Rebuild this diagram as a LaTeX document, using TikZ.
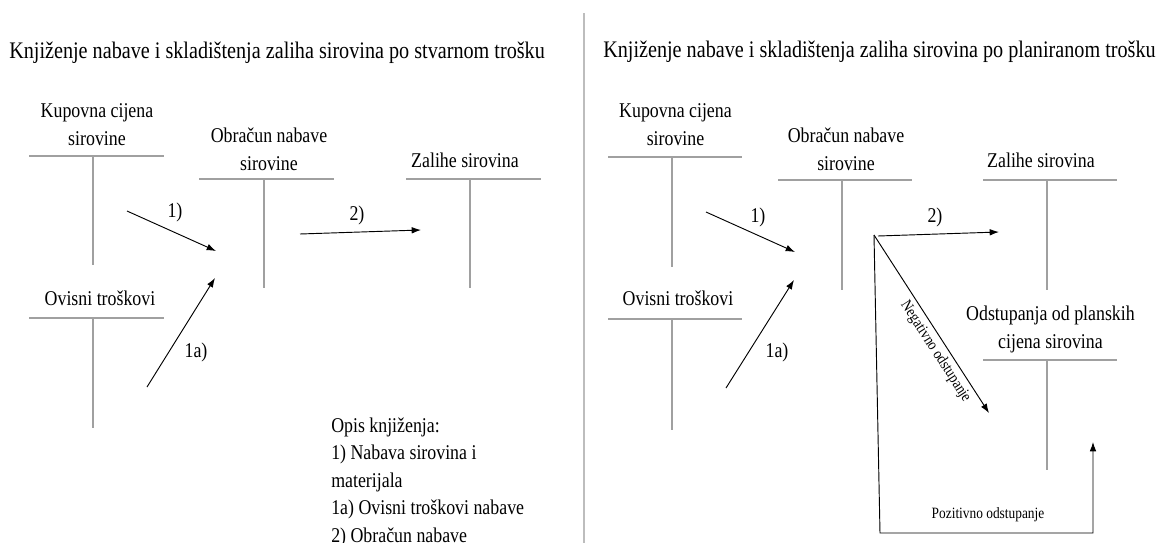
\documentclass[tikz,border=0pt]{standalone}
\usepackage{fontspec}
\setmainfont{Liberation Serif}[FakeStretch=0.85]
\usetikzlibrary{arrows.meta}
\definecolor{linija}{RGB}{160,160,160}
\tikzset{
  konto/.style={draw=linija, line width=1.1pt},
  knjizenje/.style={-{Latex[length=7pt,width=5pt]}, line width=0.7pt},
  naziv/.style={font=\fontsize{15.75}{21}\selectfont, align=center, inner sep=0pt, anchor=base},
  broj/.style={font=\fontsize{15.75}{21}\selectfont, inner sep=0pt},
  sitno/.style={font=\fontsize{11.8}{14}\selectfont, inner sep=0pt},
  naslov/.style={font=\fontsize{17.8}{21}\selectfont, inner sep=0pt, anchor=base west},
}

\begin{document}
\begin{tikzpicture}[x=0.75pt,y=-0.75pt]
        \useasboundingbox (0,0) rectangle (1165,543);
        \draw[draw=linija!70, line width=0.8pt] (584,13) -- (584,543);
        \begin{scope}
            \node[naslov] (naslovS) at (9,58) {Knjiženje nabave i skladištenja zaliha sirovina po stvarnom trošku};
            % konta
            \node[naziv] (kupovnaS) at (97,145) {Kupovna cijena\\sirovine};
            \draw[konto] (29,156) -- (164,156);
            \draw[konto] (93,156) -- (93,265);
            \node[naziv] (obracunS) at (269,170) {Obračun nabave\\sirovine};
            \draw[konto] (199,179) -- (334,179);
            \draw[konto] (264,179) -- (264,288);
            \node[naziv] (zaliheS) at (465,167) {Zalihe sirovina};
            \draw[konto] (406,179) -- (541,179);
            \draw[konto] (470,179) -- (470,288);
            \node[naziv] (ovisniS) at (100,305) {Ovisni troškovi};
            \draw[konto] (29,318) -- (164,318);
            \draw[konto] (93,318) -- (93,428);
            % knjizenja
            \coordinate (a1) at (127,211);
            \coordinate (b1) at (216,251);
            \coordinate (a1a) at (147,387);
            \coordinate (b1a) at (215,278);
            \coordinate (a2) at (300,234);
            \coordinate (b2) at (421,230);
            \draw[knjizenje] (a1) -- (b1);
            \draw[knjizenje] (a1a) -- (b1a);
            \draw[knjizenje] (a2) -- (b2);
            \node[broj] (l1S) at (175,212) {1)};
            \node[broj] (l1aS) at (196,352) {1a)};
            \node[broj] (l2S) at (357,215) {2)};
            \node[font=\fontsize{15.75}{20.6}\selectfont, align=left, inner sep=0pt, anchor=base west] (opis) at (331,542)
                {Opis knjiženja:\\1) Nabava sirovina i\\materijala\\1a) Ovisni troškovi nabave\\2) Obračun nabave};
        \end{scope}
        \begin{scope}[shift={(578.5,0)}]
            \node[naslov] (naslovP) at (24.5,57) {Knjiženje nabave i skladištenja zaliha sirovina po planiranom trošku};
            % konta
            \node[naziv] (kupovnaP) at (97,145) {Kupovna cijena\\sirovine};
            \draw[konto] (29.5,157) -- (163.5,157);
            \draw[konto] (93.5,157) -- (93.5,267);
            \node[naziv] (obracunP) at (267.5,170) {Obračun nabave\\sirovine};
            \draw[konto] (199.5,180) -- (333.5,180);
            \draw[konto] (263.5,180) -- (263.5,290);
            \node[naziv] (zaliheP) at (462.5,167) {Zalihe sirovina};
            \draw[konto] (404.5,180) -- (538.5,180);
            \draw[konto] (468.5,180) -- (468.5,290);
            \node[naziv] (ovisniP) at (99.5,305) {Ovisni troškovi};
            \draw[konto] (29.5,319) -- (163.5,319);
            \draw[konto] (93.5,319) -- (93.5,430);
            \node[naziv] (odstupanja) at (472,348) {Odstupanja od planskih\\cijena sirovina};
            \draw[konto] (404.5,360) -- (538.5,360);
            \draw[konto] (468.5,360) -- (468.5,470);
            % knjizenja
            \coordinate (c1) at (127.5,212);
            \coordinate (d1) at (216.5,252);
            \coordinate (c1a) at (147.5,388);
            \coordinate (d1a) at (215.5,280);
            \coordinate (izvor) at (295.5,235);
            \coordinate (d2) at (420.5,232);
            \coordinate (negkraj) at (410.5,413);
            \coordinate (pdole) at (301.5,533);
            \coordinate (pdesno) at (514.5,533);
            \coordinate (pkraj) at (514.5,442);
            \draw[knjizenje] (c1) -- (d1);
            \draw[knjizenje] (c1a) -- (d1a);
            \draw[knjizenje] (izvor) ++(4,1) -- (d2);
            \draw[knjizenje] (izvor) -- (negkraj) node[sitno, sloped, below, pos=0.62, yshift=-3pt] (negativno) {Negativno odstupanje};
            \draw[knjizenje] (izvor) -- (pdole) -- (pdesno) -- (pkraj);
            \node[broj] (l1P) at (179.5,217) {1)};
            \node[broj] (l1aP) at (198.5,352) {1a)};
            \node[broj] (l2P) at (356.5,217) {2)};
            \node[sitno] (pozitivno) at (409.5,515) {Pozitivno odstupanje};
        \end{scope}
    \end{tikzpicture}
\end{document}
